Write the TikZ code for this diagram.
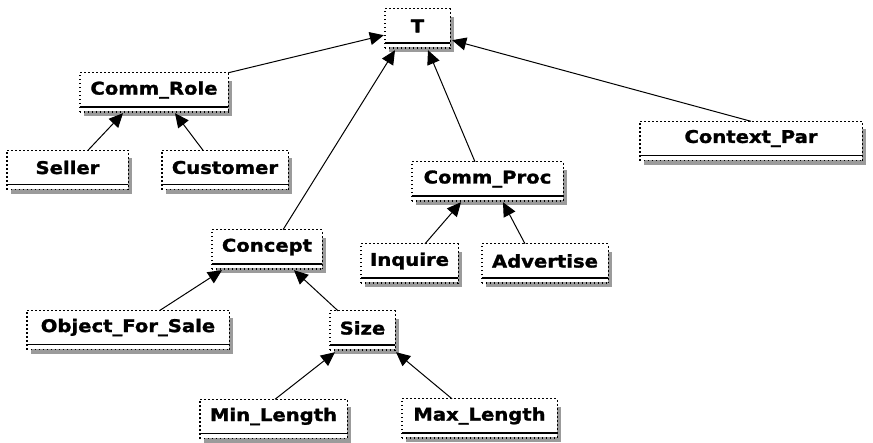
\documentclass[tikz,border=0pt]{standalone}
\usepackage{fontspec}
\usetikzlibrary{arrows.meta}
\newfontfamily\clsfamily{DejaVu Sans}[FakeStretch=1.12,FakeBold=1.5]
\definecolor{shadowgray}{RGB}{155,155,155}

\tikzset{
  dotline/.style={line width=1.4pt, dash pattern=on 1.6pt off 2.4pt, black},
  clsbox/.style={
    font={\clsfamily\bfseries\fontsize{17.5}{20}\selectfont},
    minimum height=34pt, inner sep=0pt,
    append after command={\pgfextra{\begin{pgfinterruptpath}
      % drop shadow on the right and below
      \fill[shadowgray] ([yshift=-8pt]\tikzlastnode.north east)
        rectangle ([xshift=4pt,yshift=-9pt]\tikzlastnode.south east);
      \fill[shadowgray] ([xshift=4pt,yshift=-4pt]\tikzlastnode.south west)
        rectangle ([xshift=4pt,yshift=-9pt]\tikzlastnode.south east);
      % dotted outline
      \draw[dotline] ([yshift=-5pt]\tikzlastnode.south west)
        -- (\tikzlastnode.north west) -- (\tikzlastnode.north east)
        -- ([yshift=-5pt]\tikzlastnode.south east);
      \draw[dotline] ([yshift=-5pt]\tikzlastnode.south west)
        -- ([yshift=-5pt]\tikzlastnode.south east);
      % solid base line
      \draw[line width=1.4pt] (\tikzlastnode.south west) -- (\tikzlastnode.south east);
    \end{pgfinterruptpath}}}
  },
  isa/.style={line width=1pt, -{Triangle[length=14pt,width=13pt]}}
}

\begin{document}
\begin{tikzpicture}[x=1pt,y=-1pt]
\useasboundingbox[fill=white] (0,0) rectangle (873,443);

% class boxes
\node[clsbox, minimum width=65pt]  (T)          at (417.5,26)  {T};
\node[clsbox, minimum width=148pt] (commrole)   at (154,90)    {Comm\_Role};
\node[clsbox, minimum width=121pt] (seller)     at (67.5,167.5) {Seller};
\node[clsbox, minimum width=126pt] (customer)   at (225,167.5) {Customer};
\node[clsbox, minimum width=222pt] (contextpar) at (751,138.5) {Context\_Par};
\node[clsbox, minimum width=151pt] (commproc)   at (487.5,179) {Comm\_Proc};
\node[clsbox, minimum width=110pt] (concept)    at (267,247)   {Concept};
\node[clsbox, minimum width=97pt]  (inquire)    at (409.5,261) {Inquire};
\node[clsbox, minimum width=126pt] (advertise)  at (545,261)   {Advertise};
\node[clsbox, minimum width=202pt] (objsale)    at (128,327.5) {Object\_For\_Sale};
\node[clsbox, minimum width=65pt]  (size)       at (362.5,328) {Size};
\node[clsbox, minimum width=147pt] (minlen)     at (273.5,416.5) {Min\_Length};
\node[clsbox, minimum width=155pt] (maxlen)     at (479.5,416) {Max\_Length};

% generalisation links
\draw[isa] (commrole.north east) -- ([xshift=-1pt,yshift=8pt]T.south west);
\draw[isa] ([xshift=16pt]concept.north) -- ([xshift=-22.5pt,yshift=-7pt]T.south);
\draw[isa] ([xshift=-12.5pt]commproc.north) -- ([xshift=10.5pt,yshift=-7pt]T.south);
\draw[isa] (contextpar.north) -- ([xshift=2pt,yshift=3pt]T.south east);

\draw[isa] ([xshift=20.5pt]seller.north) -- ([xshift=-31pt,yshift=-6pt]commrole.south);
\draw[isa] ([xshift=-22pt]customer.north) -- ([xshift=21pt,yshift=-6pt]commrole.south);

\draw[isa] ([xshift=15.5pt]inquire.north) -- ([xshift=-26.5pt,yshift=-6pt]commproc.south);
\draw[isa] ([xshift=-20pt]advertise.north) -- ([xshift=15.5pt,yshift=-6pt]commproc.south);

\draw[isa] ([xshift=32pt]objsale.north) -- ([xshift=-45pt,yshift=-6pt]concept.south);
\draw[isa] ([xshift=-24.5pt]size.north) -- ([xshift=27pt,yshift=-6pt]concept.south);

\draw[isa] ([xshift=1.5pt]minlen.north) -- ([xshift=-27.5pt,yshift=-7pt]size.south);
\draw[isa] ([xshift=-27.5pt]maxlen.north) -- ([xshift=33.5pt,yshift=-7pt]size.south);
\end{tikzpicture}
\end{document}
